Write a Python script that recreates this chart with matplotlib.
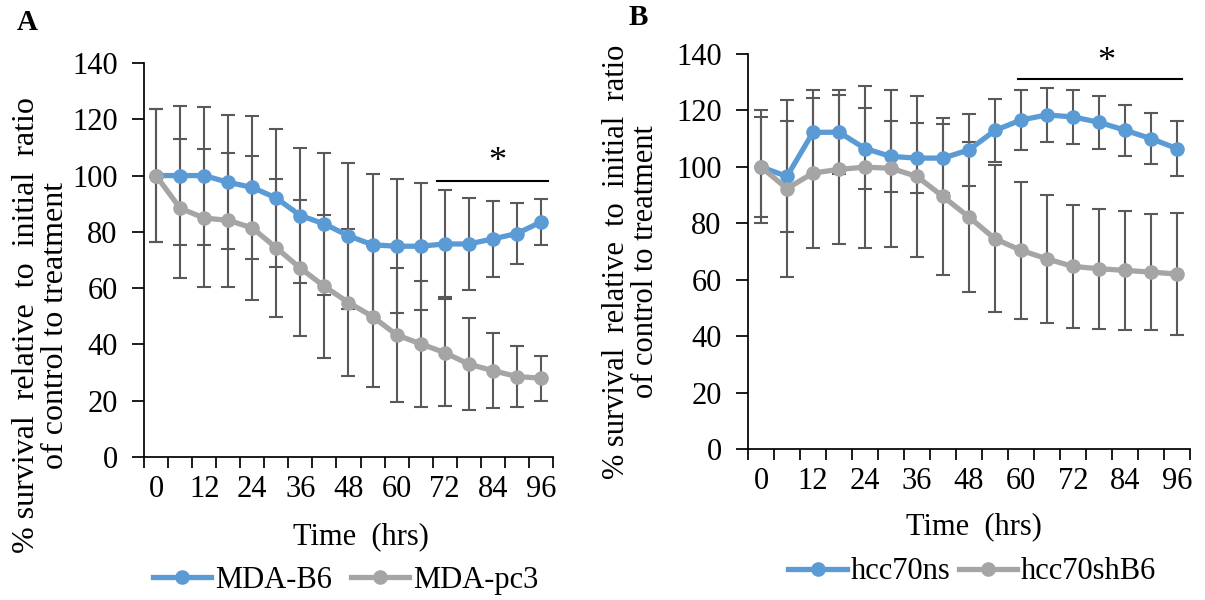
import numpy as np
import matplotlib.pyplot as plt

plt.rcParams['font.family'] = ['Liberation Serif', 'DejaVu Serif']

# sampling times (hrs) - plotted as categories like the Excel original
hours = [0, 6, 12, 18, 24, 30, 36, 42, 48, 54, 60, 66, 72, 78, 84, 90, 96]

# panel A
mda_b6 = [100, 100, 100, 97.6, 95.8, 92.0, 85.8, 82.8, 78.6, 75.4, 74.9, 74.9, 75.7, 75.7, 77.5, 79.4, 83.5]
mda_b6_err = [23.7, 24.7, 24.5, 23.8, 25.5, 24.5, 24.0, 25.3, 26.0, 25.0, 23.8, 22.5, 19.0, 16.2, 13.4, 10.7, 8.0]
mda_pc3 = [100, 88.4, 84.9, 84.1, 81.4, 74.3, 67.1, 60.6, 54.9, 49.9, 43.4, 40.2, 37.1, 33.0, 30.7, 28.6, 28.0]
mda_pc3_err = [23.7, 24.7, 24.6, 23.8, 25.5, 24.5, 24.2, 25.3, 26.0, 25.0, 23.8, 22.5, 19.0, 16.3, 13.3, 10.7, 8.0]

# panel B
hcc70ns = [100, 96.6, 112.2, 112.3, 106.5, 103.7, 103.1, 103.1, 106.0, 112.9, 116.6, 118.4, 117.7, 115.8, 113.0, 110.0, 106.5]
hcc70ns_err = [17.6, 19.7, 15.1, 14.8, 14.2, 12.7, 12.5, 12.2, 12.7, 11.1, 10.6, 9.7, 9.6, 9.3, 9.0, 9.0, 9.7]
hcc70shb6 = [100, 92.3, 97.8, 99.1, 99.9, 99.5, 96.6, 89.5, 82.2, 74.5, 70.4, 67.4, 64.7, 63.9, 63.3, 62.7, 62.0]
hcc70shb6_err = [20.0, 31.3, 26.6, 26.5, 28.7, 27.9, 28.5, 27.7, 26.6, 26.0, 24.4, 22.8, 21.9, 21.2, 21.0, 20.5, 21.7]

BLUE = '#5B9BD5'
GRAY = '#A5A5A5'
ERR = '#595959'

ylab = '% survival  relative  to  initial  ratio\nof control to treatment'
FS = 22


def draw_panel(ax, series, ylab_size):
    x = np.arange(len(hours))
    for vals, errs, col, name in series:
        ax.errorbar(x, vals, yerr=errs, fmt='none', ecolor=ERR, elinewidth=1.5,
                    capsize=4.8, capthick=1.5, zorder=2)
    handles = []
    for vals, errs, col, name in series:
        h, = ax.plot(x, vals, color=col, lw=3.8, marker='o', ms=9.5, label=name, zorder=3)
        handles.append(h)

    ax.set_xlim(-0.5, len(hours) - 0.5)
    ax.set_ylim(0, 140)
    ax.set_yticks(range(0, 141, 20))
    ax.set_xticks(x[::2], [str(h) for h in hours[::2]])
    ax.set_xticks(np.arange(len(hours) + 1) - 0.5, minor=True)
    ax.tick_params(axis='x', which='major', length=0, pad=13, labelsize=FS)
    ax.tick_params(axis='x', which='minor', length=8, width=1.25, direction='out')
    ax.tick_params(axis='y', length=9, width=1.25, pad=10, labelsize=FS)
    for s in ['top', 'right']:
        ax.spines[s].set_visible(False)
    for s in ['left', 'bottom']:
        ax.spines[s].set_linewidth(1.25)
    ax.set_ylabel(ylab, fontsize=ylab_size, linespacing=1.0)
    ax.set_xlabel('Time  (hrs)', fontsize=FS)
    return handles


fig = plt.figure(figsize=(12.05, 6), dpi=100)
axA = fig.add_axes([0.1195, 0.2383, 0.3394, 0.6567])
axB = fig.add_axes([0.6207, 0.2517, 0.3668, 0.6583])

hA = draw_panel(axA, [(mda_b6, mda_b6_err, BLUE, 'MDA-B6'),
                      (mda_pc3, mda_pc3_err, GRAY, 'MDA-pc3')], 23)
hB = draw_panel(axB, [(hcc70ns, hcc70ns_err, BLUE, 'hcc70ns'),
                      (hcc70shb6, hcc70shb6_err, GRAY, 'hcc70shB6')], 22)

axA.yaxis.set_label_coords(-0.18, 0.335)
axB.yaxis.set_label_coords(-0.198, 0.475)
axA.xaxis.set_label_coords(0.53, -0.165)
axB.xaxis.set_label_coords(0.511, -0.16)

# significance bars
axA.plot([11.7, 16.3], [98, 98], color='black', lw=1.5, clip_on=False)
axA.text(14.2, 104.5, '*', ha='center', va='center', fontsize=26)
axB.plot([9.9, 16.2], [131, 131], color='black', lw=1.5, clip_on=False)
axB.text(13.3, 137, '*', ha='center', va='center', fontsize=26, clip_on=False)

fig.legend(handles=hA, loc='center', bbox_to_anchor=(0.287, 0.033), ncol=2,
           frameon=False, fontsize=FS, handlelength=1.9, handletextpad=0.15,
           columnspacing=0.6, borderaxespad=0, borderpad=0)
fig.legend(handles=hB, loc='center', bbox_to_anchor=(0.807, 0.047), ncol=2,
           frameon=False, fontsize=FS, handlelength=1.9, handletextpad=0.15,
           columnspacing=0.25, borderaxespad=0, borderpad=0)

fig.text(0.014, 0.963, 'A', fontsize=21, fontweight='bold', va='center')
fig.text(0.522, 0.971, 'B', fontsize=21, fontweight='bold', va='center')

plt.savefig('out.png', dpi=100)
